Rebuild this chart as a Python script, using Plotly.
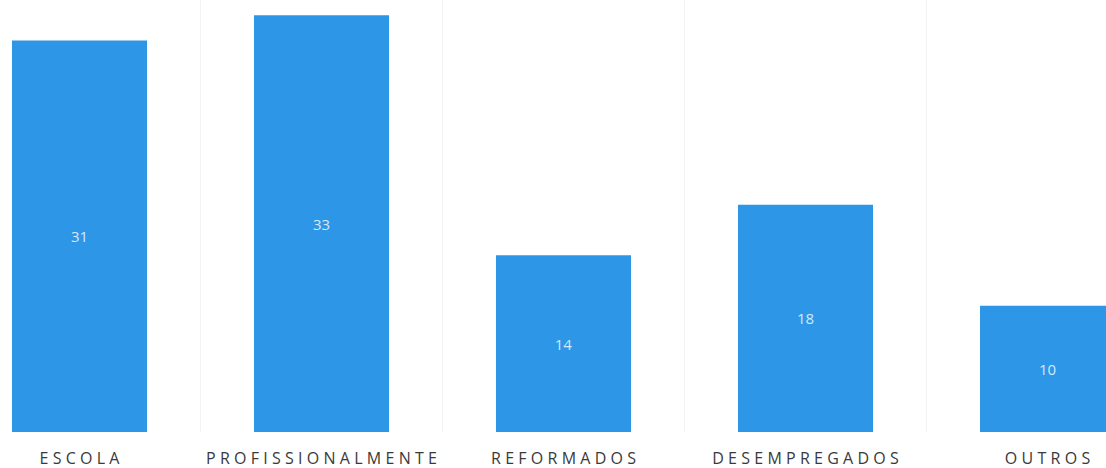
import plotly.graph_objects as go

categories = ["ESCOLA", "PROFISSIONALMENTE", "REFORMADOS", "DESEMPREGADOS", "OUTROS"]
values = [31, 33, 14, 18, 10]

# letter-spaced display labels (thin + hair spaces between letters)
tick_labels = ["\u2009\u200a".join(c) for c in categories]

fig = go.Figure(
    go.Bar(
        x=categories,
        y=values,
        text=[str(v) for v in values],
        textposition="inside",
        insidetextanchor="middle",
        textfont=dict(family="Open Sans", size=15, color="#d3e9f8"),
        marker=dict(color="#2e96e6", line=dict(width=0)),
        width=0.558,
        hoverinfo="skip",
    )
)

fig.update_layout(
    width=1106,
    height=468,
    margin=dict(l=0, r=0, t=0, b=36),
    paper_bgcolor="white",
    plot_bgcolor="white",
    showlegend=False,
)
fig.update_xaxes(
    type="category",
    range=[-0.3285, 4.2417],
    tickmode="array",
    tickvals=categories,
    ticktext=tick_labels,
    tickfont=dict(family="Open Sans", size=16, color="#3a3a3a"),
    showgrid=True,
    gridcolor="#f3f3f3",
    gridwidth=1,
    tickson="boundaries",
    ticks="",
    showline=False,
    zeroline=False,
    ticklabelstandoff=15,
    automargin=False,
)
fig.update_yaxes(
    range=[0, 34.2],
    showgrid=False,
    showticklabels=False,
    zeroline=False,
    showline=False,
)

fig.write_html(
    "out.html",
    config={"displayModeBar": False},
    post_script="document.body.style.margin='0';document.body.style.overflow='hidden';",
)
